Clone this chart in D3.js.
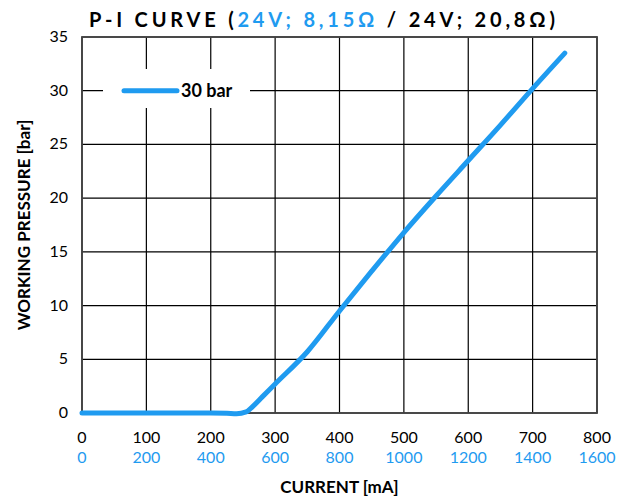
<!DOCTYPE html>
<html lang="en">
<head>
  <meta charset="UTF-8">
  <title>P-I Curve</title>
  <script src="https://d3js.org/d3.v7.min.js"></script>
  <style>
    body { margin: 0; background: #fff; font-family: Lato, "Open Sans", Arial, sans-serif; }
  </style>
</head>
<body>
  <div id="chart"></div>
  <script>
    const blue = "#1f9bf0";
    const currentMA = [0, 100, 200, 225, 240, 255, 265, 280, 300, 350, 400, 450, 500, 550, 600, 650, 700, 750];
    const pressureBar = [0, 0, 0, -0.03, -0.08, 0.1, 0.6, 1.5, 2.7, 5.7, 9.5, 13.2, 16.8, 20.2, 23.5, 26.8, 30.2, 33.5];
    const xTicks = [0, 100, 200, 300, 400, 500, 600, 700, 800];
    const xTicks2 = [0, 200, 400, 600, 800, 1000, 1200, 1400, 1600];
    const yTicks = [0, 5, 10, 15, 20, 25, 30, 35];

    const width = 627, height = 498;
    const margin = { left: 82, right: 30, top: 37, bottom: 85 };

    const svg = d3.select("#chart").append("svg")
      .attr("width", width)
      .attr("height", height);

    const x = d3.scaleLinear().domain([0, 800]).range([margin.left, width - margin.right]);
    const y = d3.scaleLinear().domain([0, 35]).range([height - margin.bottom, margin.top]);

    // grid
    svg.append("g").selectAll("line").data(xTicks).enter().append("line")
      .attr("x1", d => x(d)).attr("x2", d => x(d))
      .attr("y1", y(0)).attr("y2", y(35))
      .attr("stroke", "#000").attr("stroke-width", 1.2);
    svg.append("g").selectAll("line").data(yTicks).enter().append("line")
      .attr("x1", x(0)).attr("x2", x(800))
      .attr("y1", d => y(d)).attr("y2", d => y(d))
      .attr("stroke", "#000").attr("stroke-width", 1.2);

    // frame
    svg.append("rect")
      .attr("x", x(0)).attr("y", y(35))
      .attr("width", x(800) - x(0)).attr("height", y(0) - y(35))
      .attr("fill", "none").attr("stroke", "#444").attr("stroke-width", 1.8);

    // y tick labels
    svg.append("g").selectAll("text").data(yTicks).enter().append("text")
      .attr("x", x(0) - 14).attr("y", d => y(d) + 5)
      .attr("text-anchor", "end").attr("font-size", 16)
      .text(d => d);

    // x tick labels, two rows
    svg.append("g").selectAll("text").data(xTicks).enter().append("text")
      .attr("x", d => x(d)).attr("y", y(0) + 30)
      .attr("text-anchor", "middle").attr("font-size", 16)
      .text(d => d);
    svg.append("g").selectAll("text").data(xTicks2).enter().append("text")
      .attr("x", (d, i) => x(xTicks[i])).attr("y", y(0) + 50)
      .attr("text-anchor", "middle").attr("font-size", 16)
      .attr("fill", blue)
      .text(d => d);

    // curve
    const line = d3.line()
      .x((d, i) => x(currentMA[i]))
      .y(d => y(d))
      .curve(d3.curveMonotoneX);
    svg.append("path")
      .datum(pressureBar)
      .attr("d", line)
      .attr("fill", "none")
      .attr("stroke", blue)
      .attr("stroke-width", 5)
      .attr("stroke-linecap", "round");

    // legend
    svg.append("rect")
      .attr("x", 103).attr("y", 69).attr("width", 147).attr("height", 39)
      .attr("fill", "#fff");
    svg.append("line")
      .attr("x1", 124).attr("x2", 177).attr("y1", y(30)).attr("y2", y(30))
      .attr("stroke", blue).attr("stroke-width", 5).attr("stroke-linecap", "round");
    svg.append("text")
      .attr("x", 181).attr("y", y(30) + 6)
      .attr("font-size", 18).attr("font-weight", "bold")
      .text("30 bar");

    // axis titles
    svg.append("text")
      .attr("x", (x(0) + x(800)) / 2).attr("y", 493)
      .attr("text-anchor", "middle").attr("font-size", 17).attr("font-weight", "bold")
      .text("CURRENT [mA]");
    svg.append("text")
      .attr("transform", `translate(30, ${(y(0) + y(35)) / 2}) rotate(-90)`)
      .attr("text-anchor", "middle").attr("font-size", 17).attr("font-weight", "bold")
      .text("WORKING PRESSURE [bar]");

    // title
    const title = svg.append("text")
      .attr("x", 89).attr("y", 27)
      .attr("font-size", 20).attr("font-weight", "bold")
      .attr("letter-spacing", 3.8);
    title.append("tspan").text("P-I CURVE (");
    title.append("tspan").attr("fill", blue).text("24V; 8,15Ω");
    title.append("tspan").text(" / 24V; 20,8Ω)");
  </script>
</body>
</html>
